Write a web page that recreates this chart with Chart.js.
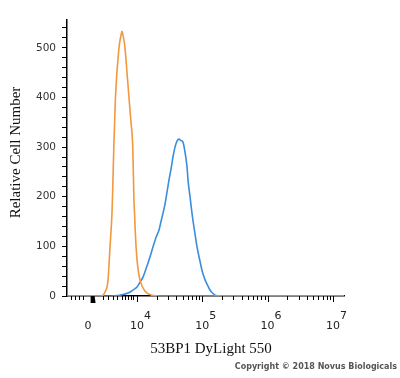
<!DOCTYPE html>
<html>
<head>
<meta charset="utf-8">
<script src="https://cdn.jsdelivr.net/npm/chart.js@4/dist/chart.umd.min.js"></script>
<style>
  html, body { margin: 0; padding: 0; background: #fff; }
  #wrap { position: relative; width: 400px; height: 378px; }
  #copy {
    position: absolute; right: 3px; top: 362px;
    font: bold 8px "DejaVu Sans", sans-serif; color: #555;
    white-space: nowrap;
  }
</style>
</head>
<body>
<div id="wrap">
  <canvas id="hist" width="400" height="378"></canvas>
  <div id="copy">Copyright © 2018 Novus Biologicals</div>
</div>
<script>
// x values are positions on the display axis, in decades (4 = 10^4)
const isotypeX = [2.93, 3.36, 3.46, 3.51, 3.556, 3.587, 3.617, 3.632, 3.645, 3.67, 3.724, 3.755, 3.77, 3.793, 3.816, 3.847, 3.877, 3.908, 3.935, 3.952, 3.962, 3.985, 4.015, 4.046, 4.12, 4.245, 4.35, 7.17];
const isotypeY = [0, 0, 0, 8, 32, 100, 167, 233, 300, 400, 500, 525, 533, 520, 500, 450, 400, 350, 300, 200, 167, 100, 55, 32, 10, 1, 0, 0];

const stainedX = [2.93, 3.587, 3.71, 3.786, 3.862, 3.939, 4.0, 4.046, 4.092, 4.138, 4.168, 4.214, 4.245, 4.291, 4.337, 4.368, 4.398, 4.429, 4.46, 4.49, 4.52, 4.551, 4.582, 4.613, 4.643, 4.674, 4.704, 4.735, 4.766, 4.781, 4.812, 4.842, 4.888, 4.919, 4.965, 4.995, 5.041, 5.072, 5.118, 5.164, 5.21, 5.27, 7.17];
const stainedY = [0, 0, 1, 3, 6, 12, 18, 28, 38, 55, 66, 85, 99, 118, 133, 150, 167, 185, 210, 234, 255, 280, 300, 312, 316, 313, 310, 290, 260, 234, 200, 167, 125, 99, 70, 52, 33, 24, 12, 5, 1, 0, 0];

const yTickValues = [0, 100, 200, 300, 400, 500];
const xLabelPos = [3.25, 4, 5, 6, 7];
const xLabelBase = ["0", "10", "10", "10", "10"];
const xLabelExp = ["", "4", "5", "6", "7"];
const xTitle = "53BP1 DyLight 550";
const yTitle = "Relative Cell Number";

const X_MIN = 2.928, X_MAX = 7.17, Y_MAX = 556;
const LEFT_MINOR = [2.989, 3.05, 3.112, 3.173, 3.479, 3.556, 3.632, 3.694, 3.77, 3.816, 3.862, 3.908, 3.939];
const ZERO_MARK = 3.32;

function toPoints(xs, ys) {
    return xs.map(function (x, i) { return { x: x, y: ys[i] }; });
}

const axisDecor = {
    id: "axisDecor",
    afterDraw: function (chart) {
        const ctx = chart.ctx;
        const xs = chart.scales.x;
        const y0 = chart.chartArea.bottom;
        ctx.save();
        ctx.strokeStyle = "#000";
        ctx.fillStyle = "#000";
        ctx.lineWidth = 1;

        // minor ticks on x
        const minors = LEFT_MINOR.slice();
        [4, 5, 6].forEach(function (d) {
            for (let k = 2; k <= 9; k++) minors.push(d + Math.log10(k));
        });
        ctx.beginPath();
        minors.forEach(function (u) {
            const px = Math.round(xs.getPixelForValue(u)) + 0.5;
            ctx.moveTo(px, y0);
            ctx.lineTo(px, y0 + 4);
        });
        [4, 5, 6, 7].forEach(function (u) {
            const px = Math.round(xs.getPixelForValue(u)) + 0.5;
            ctx.moveTo(px, y0);
            ctx.lineTo(px, y0 + 6);
        });
        ctx.stroke();

        // zero marker
        const zx = xs.getPixelForValue(ZERO_MARK);
        ctx.beginPath();
        ctx.moveTo(zx - 2, y0);
        ctx.lineTo(zx + 2, y0);
        ctx.lineTo(zx + 3, y0 + 7);
        ctx.lineTo(zx - 2, y0 + 7);
        ctx.closePath();
        ctx.fill();

        // x tick labels with exponents
        ctx.fillStyle = "#222";
        ctx.textBaseline = "middle";
        ctx.font = '11px "DejaVu Sans", sans-serif';
        xLabelPos.forEach(function (u, i) {
            const px = xs.getPixelForValue(u);
            ctx.textAlign = "center";
            ctx.fillText(xLabelBase[i], px, 326);
            if (xLabelExp[i]) {
                const w = ctx.measureText(xLabelBase[i]).width;
                ctx.textAlign = "left";
                ctx.fillText(xLabelExp[i], px + w / 2, 316);
            }
        });

        // axis titles
        ctx.fillStyle = "#111";
        ctx.font = '15px "Liberation Serif", serif';
        ctx.textAlign = "center";
        ctx.textBaseline = "alphabetic";
        ctx.fillText(xTitle, 211, 353);

        ctx.translate(16, 152.5);
        ctx.rotate(-Math.PI / 2);
        ctx.textBaseline = "middle";
        ctx.fillText(yTitle, 0, 0);
        ctx.restore();
    }
};

new Chart(document.getElementById("hist"), {
    type: "line",
    data: {
        datasets: [
            {
                label: "isotype",
                data: toPoints(isotypeX, isotypeY),
                borderColor: "#F2983F",
                borderWidth: 1.6,
                pointRadius: 0,
                cubicInterpolationMode: "monotone",
                fill: false
            },
            {
                label: "53BP1",
                data: toPoints(stainedX, stainedY),
                borderColor: "#3B8DDD",
                borderWidth: 1.6,
                pointRadius: 0,
                cubicInterpolationMode: "monotone",
                fill: false
            }
        ]
    },
    options: {
        responsive: false,
        animation: false,
        devicePixelRatio: 1,
        layout: { padding: { top: 20, right: 56, left: 0, bottom: 0 } },
        plugins: { legend: { display: false }, tooltip: { enabled: false } },
        scales: {
            x: {
                type: "linear",
                min: X_MIN,
                max: X_MAX,
                grid: { display: false },
                border: { display: true, color: "#000", width: 1.5 },
                ticks: { display: false },
                afterFit: function (s) { s.height = 82; }
            },
            y: {
                min: 0,
                max: Y_MAX,
                border: { display: true, color: "#000", width: 1.5 },
                grid: { drawOnChartArea: false, drawTicks: true, tickLength: 5, color: "#000" },
                afterBuildTicks: function (s) {
                    const t = [];
                    for (let v = 0; v <= 540; v += 20) t.push({ value: v });
                    s.ticks = t;
                },
                ticks: {
                    autoSkip: false,
                    padding: 6,
                    color: "#333",
                    font: { family: "DejaVu Sans", size: 10.5 },
                    callback: function (v) { return yTickValues.indexOf(v) >= 0 ? String(v) : ""; }
                },
                afterFit: function (s) { s.width = 67; }
            }
        }
    },
    plugins: [axisDecor]
});
</script>
</body>
</html>
